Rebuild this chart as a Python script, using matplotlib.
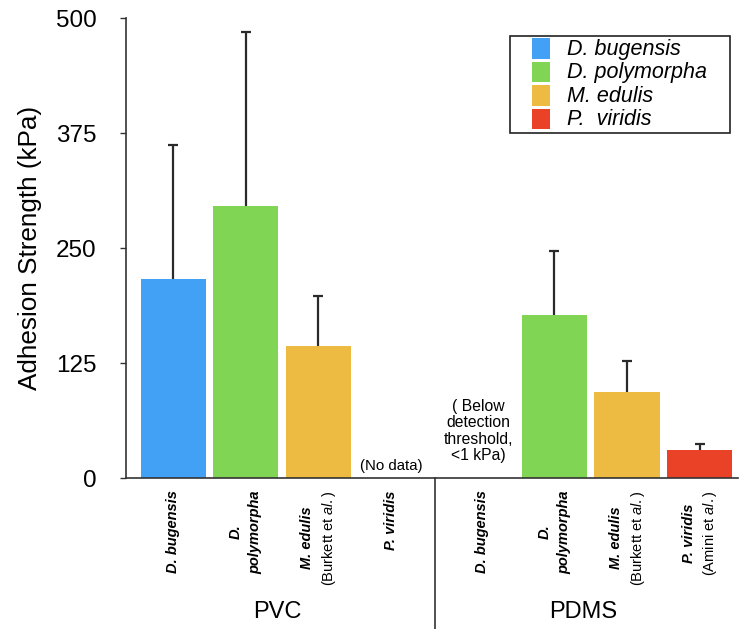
import numpy as np
import matplotlib
matplotlib.use("Agg")
import matplotlib.pyplot as plt
from matplotlib.patches import Patch, Rectangle
from matplotlib.legend_handler import HandlerPatch

plt.rcParams['font.family'] = ['Liberation Sans', 'DejaVu Sans']
plt.rcParams['mathtext.fontset'] = 'custom'
plt.rcParams['mathtext.it'] = 'Liberation Sans:italic'
plt.rcParams['mathtext.rm'] = 'Liberation Sans'

# ---- data ----
species = ["D. bugensis", "D. polymorpha", "M. edulis", "P.  viridis"]
colors = ["#42A0F5", "#80D555", "#EDBA42", "#E94226"]
groups = ["PVC", "PDMS"]
pvc_values = [216.6, 296.3, 143.8, np.nan]
pvc_err_up = [145.4, 189.1, 54.7, np.nan]
pdms_values = [np.nan, 178.0, 93.5, 30.4]
pdms_err_up = [np.nan, 69.0, 34.5, 6.6]
yticks = [0, 125, 250, 375, 500]

# tick label parts: (bold italic line(s), optional regular second line)
pvc_labels = [("D. bugensis", None), ("D.\npolymorpha", None),
              ("M. edulis", r"(Burkett et $\mathit{al.}$)"), ("P. viridis", None)]
pdms_labels = [("D. bugensis", None), ("D.\npolymorpha", None),
               ("M. edulis", r"(Burkett et $\mathit{al.}$)"),
               ("P. viridis", r"(Amini et $\mathit{al.}$)")]

fig = plt.figure(figsize=(7.39, 6.29), dpi=100)
ax = fig.add_axes([126/739, 1-478.3/629, 612/739, 460/629])

pos_pvc = np.arange(4) * 1.0
pos_pdms = np.arange(4) * 1.0 + 4.25
width = 0.9

for vals, errs, pos in [(pvc_values, pvc_err_up, pos_pvc), (pdms_values, pdms_err_up, pos_pdms)]:
    for i in range(4):
        if np.isnan(vals[i]):
            continue
        ax.bar(pos[i], vals[i], width=width, color=colors[i], edgecolor='none', zorder=2)
        _, caps, _ = ax.errorbar(pos[i], vals[i], yerr=[[0], [errs[i]]], fmt='none',
                                 ecolor='#2a2a2a', elinewidth=1.6, capsize=3.3,
                                 capthick=1.6, zorder=3)
        # hide the lower cap (errors drawn upward only)
        for c in caps:
            if np.allclose(c.get_ydata(), vals[i]):
                c.set_visible(False)

ax.set_xlim(-0.65, 7.78)
ax.set_ylim(0, 500)
ax.set_yticks(yticks)
ax.set_yticklabels([str(t) for t in yticks], fontsize=17.5)
ax.tick_params(axis='y', direction='out', length=4, width=1, pad=17, color='#333333')
ax.set_xticks([])
for s in ['top', 'right']:
    ax.spines[s].set_visible(False)
for s in ['left', 'bottom']:
    ax.spines[s].set_color('#333333')
    ax.spines[s].set_linewidth(1.2)
ax.set_ylabel("Adhesion Strength (kPa)", fontsize=18.8, labelpad=10)

# No data annotations
trans = ax.get_xaxis_transform()
ax.text(pos_pvc[3], 0.012, "(No data)", transform=trans, ha='center', va='bottom', fontsize=10.8)
ax.text(pos_pdms[0] - 0.05, 0.033, "( Below\ndetection\nthreshold,\n<1 kPa)", transform=trans,
        ha='center', va='bottom', fontsize=11.3, linespacing=1.12)

# category labels below axis
top_y = -0.026
for pos, labels in [(pos_pvc, pvc_labels), (pos_pdms, pdms_labels)]:
    for i, (main, sub) in enumerate(labels):
        if sub is None:
            ax.text(pos[i], top_y, main, transform=trans, rotation=90, ha='center', va='top',
                    fontsize=10.5, fontweight='bold', fontstyle='italic',
                    multialignment='center', linespacing=1.5)
        else:
            t2 = ax.text(pos[i] + 0.15, top_y, sub, transform=trans, rotation=90, ha='center',
                         va='top', fontsize=10.5)
            fig.canvas.draw()
            bb = t2.get_window_extent()
            cy_pix = (bb.y0 + bb.y1) / 2
            cy_ax = ax.transAxes.inverted().transform((0, cy_pix))[1]
            ax.text(pos[i] - 0.15, cy_ax, main, transform=trans, rotation=90, ha='center',
                    va='center', fontsize=10.5, fontweight='bold', fontstyle='italic')

# divider line
div_x = 3.61
ax.plot([div_x, div_x], [0, -0.33], transform=trans, color='#333333', lw=1.2, clip_on=False)

# group labels
ax.text(1.43, -0.29, groups[0], transform=trans, ha='center', va='center', fontsize=17)
ax.text(5.65, -0.29, groups[1], transform=trans, ha='center', va='center', fontsize=17)


# legend: square swatch placed at the right of a wider handle box
def make_square(legend, orig_handle, xdescent, ydescent, width, height, fontsize):
    side = height * 1.0
    return Rectangle((width - side - xdescent, -ydescent - 0.1 * height), side, height * 1.1)


handles = [Patch(facecolor=c, edgecolor='none') for c in colors]
leg = ax.legend(handles, species, loc='upper left', mode='expand',
                bbox_to_anchor=(0.627, 0.962 - 0.2, 0.3595, 0.2),
                prop={'style': 'italic', 'size': 15.5}, frameon=True, fancybox=False,
                edgecolor='#222222', handlelength=1.77, handleheight=0.95,
                labelspacing=0.08, handletextpad=0.75, borderpad=0.12, borderaxespad=0,
                handler_map={Patch: HandlerPatch(patch_func=make_square)})
leg.get_frame().set_linewidth(1.2)
leg.get_frame().set_alpha(1)

fig.savefig("out.png", dpi=100)
